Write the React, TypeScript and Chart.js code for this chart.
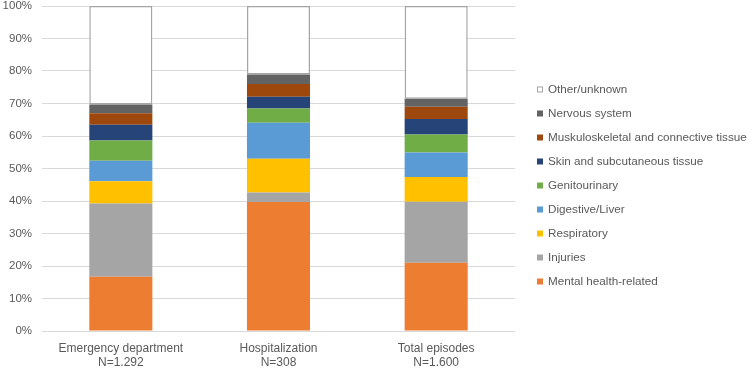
import React, { useEffect, useRef } from "react";
import { Chart, registerables } from "chart.js";

Chart.register(...registerables);

const categories: string[][] = [
  ["Emergency department", "N=1.292"],
  ["Hospitalization", "N=308"],
  ["Total episodes", "N=1.600"],
];

const seriesNames = [
  "Mental health-related",
  "Injuries",
  "Respiratory",
  "Digestive/Liver",
  "Genitourinary",
  "Skin and subcutaneous tissue",
  "Muskuloskeletal and connective tissue",
  "Nervous system",
  "Other/unknown",
];

const mentalHealth = [16.7, 39.7, 21.0];
const injuries = [22.5, 2.9, 18.8];
const respiratory = [6.9, 10.4, 7.6];
const digestive = [6.3, 11.1, 7.5];
const genitourinary = [6.2, 4.4, 5.6];
const skin = [4.9, 3.6, 4.7];
const musculoskeletal = [3.5, 3.9, 3.8];
const nervous = [2.7, 2.9, 2.5];
const other = [30.3, 21.1, 28.5];

const seriesValues = [
  mentalHealth,
  injuries,
  respiratory,
  digestive,
  genitourinary,
  skin,
  musculoskeletal,
  nervous,
  other,
];

const fillColors = [
  "#ED7D31",
  "#A5A5A5",
  "#FFC000",
  "#5B9BD5",
  "#70AD47",
  "#264478",
  "#9E480E",
  "#636363",
  "#FFFFFF",
];

const yTicks = [0, 10, 20, 30, 40, 50, 60, 70, 80, 90, 100];

const FONT = "'Liberation Sans', Arial, sans-serif";
const TEXT = "#595959";

const legendPlugin = {
  id: "sideLegend",
  afterDraw(chart: any) {
    const ctx = chart.ctx;
    const ds = chart.data.datasets;
    ctx.save();
    ctx.font = `11.7px ${FONT}`;
    ctx.textBaseline = "middle";
    ctx.textAlign = "left";
    const startY = 89.5;
    const step = 24;
    const boxX = 537;
    const box = 6;
    for (let k = 0; k < ds.length; k++) {
      const i = ds.length - 1 - k;
      const d = ds[i];
      const y = startY + k * step;
      ctx.fillStyle = d.backgroundColor;
      ctx.fillRect(boxX, y - box / 2, box, box);
      if (d.label === "Other/unknown") {
        ctx.strokeStyle = "#A5A5A5";
        ctx.lineWidth = 1;
        ctx.strokeRect(boxX + 0.5, y - box / 2 + 0.5, box - 1, box - 1);
      }
      ctx.fillStyle = TEXT;
      ctx.fillText(d.label, 548, y + 0.5);
    }
    ctx.restore();
  },
};

export default function App() {
  const canvasRef = useRef<HTMLCanvasElement | null>(null);

  useEffect(() => {
    document.body.style.margin = "0";
    const canvas = canvasRef.current;
    if (!canvas) return;
    const datasets = seriesNames.map((name, i) => {
      const isOther = name === "Other/unknown";
      return {
        label: name,
        data: seriesValues[i],
        backgroundColor: fillColors[i],
        borderColor: isOther ? "#A5A5A5" : fillColors[i],
        borderWidth: isOther ? 1.5 : 0,
        borderSkipped: false as any,
        barPercentage: 0.4,
        categoryPercentage: 1.0,
      };
    });
    const chart = new Chart(canvas, {
      type: "bar",
      data: { labels: categories, datasets },
      options: {
        animation: false,
        responsive: false,
        maintainAspectRatio: false,
        layout: { padding: { left: 0, right: 234, top: 6, bottom: 0 } },
        plugins: {
          legend: { display: false },
          tooltip: { enabled: false },
        },
        scales: {
          x: {
            stacked: true,
            grid: { display: false, drawTicks: false },
            border: { display: false },
            ticks: {
              color: TEXT,
              font: { family: FONT, size: 12 },
              padding: 10,
              maxRotation: 0,
              autoSkip: false,
            },
            afterFit: (s: any) => {
              s.height = 38;
              s.paddingLeft = 0;
              s.paddingRight = 0;
            },
          },
          y: {
            stacked: true,
            min: 0,
            max: 100,
            afterBuildTicks: (s: any) => {
              s.ticks = yTicks.map((v) => ({ value: v }));
            },
            grid: { color: "#D9D9D9", drawTicks: false, lineWidth: 1 },
            border: { display: false },
            ticks: {
              color: TEXT,
              font: { family: FONT, size: 11.5 },
              padding: 10,
              callback: (v: any) => `${v}%`,
            },
            afterFit: (s: any) => {
              s.width = 42;
              s.paddingTop = 0;
              s.paddingBottom = 0;
            },
          },
        },
      },
      plugins: [legendPlugin],
    });
    return () => chart.destroy();
  }, []);

  return (
    <div style={{ width: 749, height: 369, background: "#fff" }}>
      <canvas ref={canvasRef} width={749} height={369} style={{ display: "block" }} />
    </div>
  );
}
